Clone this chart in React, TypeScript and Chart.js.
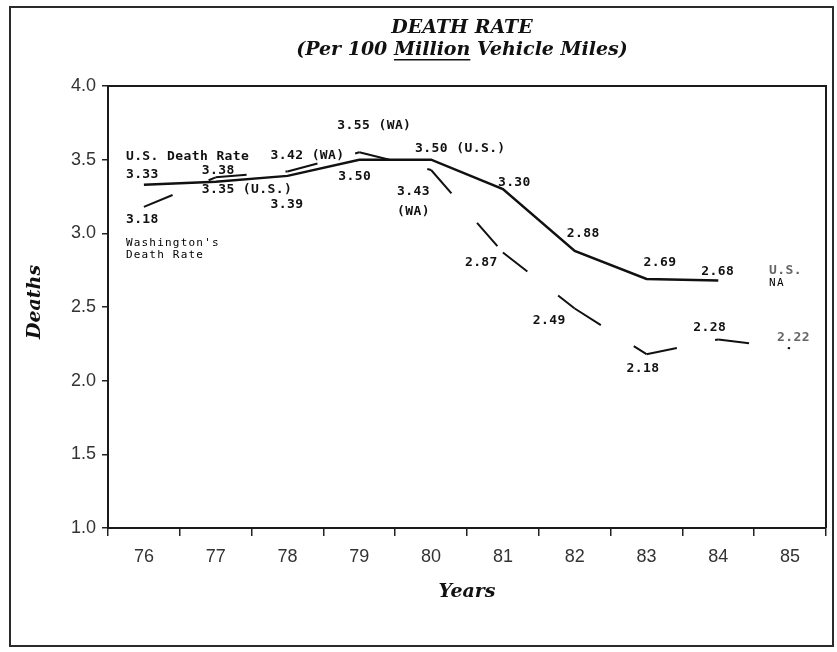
import React, { useEffect, useRef } from "react";
import { Chart, registerables } from "chart.js";

Chart.register(...registerables);

// ---------- data ----------
const years = ["76", "77", "78", "79", "80", "81", "82", "83", "84", "85"];
const usDeathRate: (number | null)[] = [3.33, 3.35, 3.39, 3.5, 3.5, 3.3, 2.88, 2.69, 2.68, null];
const waDeathRate: (number | null)[] = [3.18, 3.38, 3.42, 3.55, 3.43, 2.87, 2.49, 2.18, 2.28, 2.22];

const yMin = 1.0;
const yMax = 4.0;
const yStep = 0.5;

const titleLine1 = "DEATH RATE";
const titleLine2Parts = ["(Per 100 ", "Million", " Vehicle Miles)"];
const yAxisTitle = "Deaths";
const xAxisTitle = "Years";

// annotation texts anchored on (category index, value) of the chart
type Note = { text: string; cat: number; val: number; dx: number; dy: number; small?: boolean; faint?: boolean };
const notes: Note[] = [
  { text: "U.S. Death Rate", cat: 0, val: 3.33, dx: -18, dy: -28 },
  { text: "3.33", cat: 0, val: 3.33, dx: -18, dy: -10 },
  { text: "3.38", cat: 1, val: 3.38, dx: -14, dy: -7 },
  { text: "3.35 (U.S.)", cat: 1, val: 3.35, dx: -14, dy: 8 },
  { text: "3.42 (WA)", cat: 2, val: 3.42, dx: -17, dy: -16 },
  { text: "3.39", cat: 2, val: 3.39, dx: -17, dy: 29 },
  { text: "3.55 (WA)", cat: 3, val: 3.55, dx: -22, dy: -27 },
  { text: "3.50", cat: 3, val: 3.5, dx: -21, dy: 17 },
  { text: "3.50 (U.S.)", cat: 4, val: 3.5, dx: -16, dy: -11 },
  { text: "3.43", cat: 4, val: 3.43, dx: -34, dy: 22 },
  { text: "(WA)", cat: 4, val: 3.43, dx: -34, dy: 42 },
  { text: "3.30", cat: 5, val: 3.3, dx: -5, dy: -7 },
  { text: "2.87", cat: 5, val: 2.87, dx: -38, dy: 10 },
  { text: "2.88", cat: 6, val: 2.88, dx: -8, dy: -17 },
  { text: "2.49", cat: 6, val: 2.49, dx: -42, dy: 12 },
  { text: "2.69", cat: 7, val: 2.69, dx: -3, dy: -16 },
  { text: "2.18", cat: 7, val: 2.18, dx: -20, dy: 14 },
  { text: "2.68", cat: 8, val: 2.68, dx: -17, dy: -9 },
  { text: "2.28", cat: 8, val: 2.28, dx: -25, dy: -12 },
  { text: "U.S.", cat: 9, val: 2.7, dx: -21, dy: -7, faint: true },
  { text: "NA", cat: 9, val: 2.7, dx: -21, dy: 6, small: true },
  { text: "2.22", cat: 9, val: 2.22, dx: -13, dy: -11, faint: true },
  { text: "3.18", cat: 0, val: 3.18, dx: -18, dy: 13 },
  { text: "Washington's", cat: 0, val: 3.18, dx: -18, dy: 36, small: true },
  { text: "Death Rate", cat: 0, val: 3.18, dx: -18, dy: 48, small: true },
];

const serifBI = "italic bold 19px 'DejaVu Serif', serif";

const decorPlugin = {
  id: "decor",
  beforeDraw(chart: any) {
    const { ctx, width, height } = chart;
    ctx.save();
    ctx.fillStyle = "#ffffff";
    ctx.fillRect(0, 0, width, height);
    ctx.strokeStyle = "#2b2b2b";
    ctx.lineWidth = 2;
    ctx.strokeRect(10, 7, 823, 639);
    ctx.restore();
  },
  afterDraw(chart: any) {
    const { ctx, chartArea: a, scales } = chart;
    const xs = scales.x;
    const ys = scales.y;
    ctx.save();
    // top & right plot border
    ctx.strokeStyle = "#1a1a1a";
    ctx.lineWidth = 2;
    ctx.beginPath();
    ctx.moveTo(a.left, a.top);
    ctx.lineTo(a.right, a.top);
    ctx.lineTo(a.right, a.bottom);
    ctx.stroke();

    // titles
    const cx = 462;
    ctx.fillStyle = "#111";
    ctx.font = serifBI;
    ctx.textBaseline = "middle";
    ctx.textAlign = "center";
    ctx.fillText(titleLine1, cx, 28);
    const widths = titleLine2Parts.map((p) => ctx.measureText(p).width);
    const total = widths.reduce((s, w) => s + w, 0);
    let x = cx - total / 2;
    ctx.textAlign = "left";
    titleLine2Parts.forEach((p, i) => {
      ctx.fillText(p, x, 50);
      if (p === "Million") {
        ctx.fillRect(x, 59, widths[i], 1.5);
      }
      x += widths[i];
    });

    // axis titles
    ctx.textAlign = "center";
    ctx.fillText(xAxisTitle, 467, 592);
    ctx.save();
    ctx.translate(35, 302);
    ctx.rotate(-Math.PI / 2);
    ctx.fillText(yAxisTitle, 0, 0);
    ctx.restore();

    // annotations
    ctx.textAlign = "left";
    ctx.textBaseline = "middle";
    for (const n of notes) {
      const px = xs.getPixelForValue(n.cat) + n.dx;
      const py = ys.getPixelForValue(n.val) + n.dy;
      if (n.small) {
        ctx.font = "11px 'DejaVu Sans Mono', monospace";
        (ctx as any).letterSpacing = "1.2px";
        ctx.fillStyle = "#000";
      } else {
        ctx.font = "bold 13px 'DejaVu Sans Mono', monospace";
        (ctx as any).letterSpacing = "0.4px";
        ctx.fillStyle = n.faint ? "#666" : "#111";
      }
      ctx.fillText(n.text, px, py);
    }
    (ctx as any).letterSpacing = "0px";
    ctx.restore();
  },
};

export default function App() {
  const ref = useRef<HTMLCanvasElement | null>(null);

  useEffect(() => {
    if (!ref.current) return;
    const chart = new Chart(ref.current, {
      type: "line",
      data: {
        labels: years,
        datasets: [
          {
            label: "U.S. Death Rate",
            data: usDeathRate,
            borderColor: "#111",
            borderWidth: 2.5,
            pointRadius: 0,
            tension: 0,
            spanGaps: false,
          },
          {
            label: "Washington's Death Rate",
            data: waDeathRate,
            borderColor: "#111",
            borderWidth: 2,
            borderDash: [31, 39],
            pointRadius: 0,
            tension: 0,
            // plotter style: the dash pattern restarts at every data point
            segment: {
              borderDash: () => [31, 39],
              borderDashOffset: (c: any) => (c.p0DataIndex % 2) * 0.001,
            },
          },
        ],
      },
      options: {
        animation: false,
        responsive: false,
        maintainAspectRatio: false,
        layout: { padding: { top: 86, left: 0, right: 11, bottom: 0 } },
        plugins: {
          legend: { display: false },
          title: { display: false },
          tooltip: { enabled: false },
        },
        scales: {
          x: {
            type: "category",
            offset: true,
            grid: {
              offset: true,
              drawOnChartArea: false,
              drawTicks: true,
              tickLength: 8,
              color: "#222",
              lineWidth: 1.5,
            },
            border: { display: true, color: "#1a1a1a", width: 2 },
            ticks: {
              color: "#333",
              padding: 10,
              font: { family: "'Liberation Sans', Arial, sans-serif", size: 18 },
              maxRotation: 0,
              autoSkip: false,
            },
            afterFit: (s: any) => {
              s.height = 124;
            },
          },
          y: {
            min: yMin,
            max: yMax,
            grid: {
              drawOnChartArea: false,
              drawTicks: true,
              tickLength: 6,
              color: "#222",
              lineWidth: 1.5,
            },
            border: { display: true, color: "#1a1a1a", width: 2 },
            ticks: {
              stepSize: yStep,
              color: "#333",
              padding: 6,
              font: { family: "'Liberation Sans', Arial, sans-serif", size: 18 },
              callback: (v: any) => Number(v).toFixed(1),
            },
            afterFit: (s: any) => {
              s.width = 108;
            },
          },
        },
      },
      plugins: [decorPlugin],
    });
    return () => chart.destroy();
  }, []);

  return (
    <div style={{ position: "absolute", left: 0, top: 0, width: 837, height: 652, background: "#fff" }}>
      <canvas ref={ref} width={837} height={652} style={{ display: "block", width: 837, height: 652 }} />
    </div>
  );
}
